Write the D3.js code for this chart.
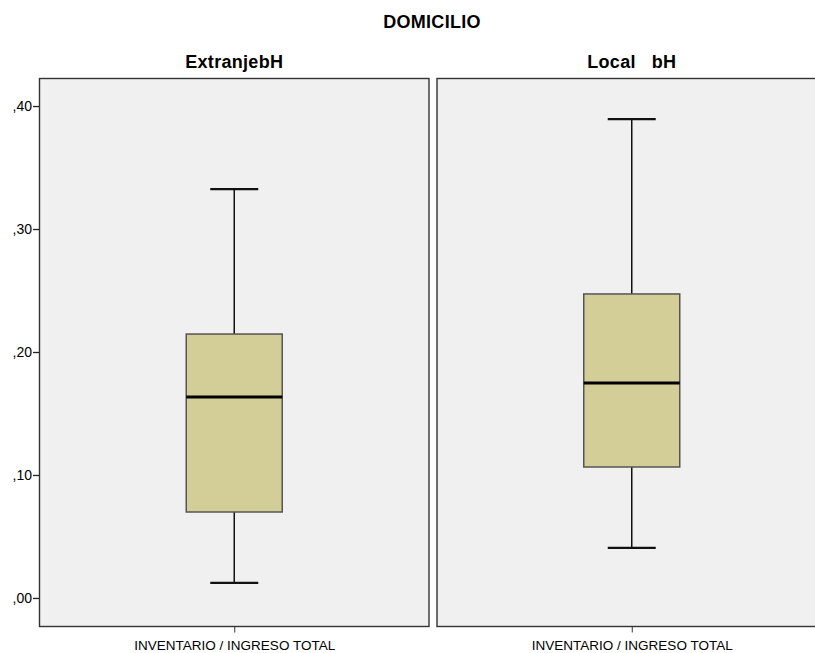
<!DOCTYPE html>
<html>
<head>
<meta charset="utf-8">
<script src="https://cdn.jsdelivr.net/npm/d3@7"></script>
<style>
  html, body { margin: 0; padding: 0; background: #ffffff; }
  svg { display: block; font-family: "Liberation Sans", Arial, sans-serif; }
</style>
</head>
<body>
<svg id="chart" width="815" height="653"></svg>
<script>
// Panels (DOMICILIO groups) and box-plot summaries of INVENTARIO / INGRESO TOTAL
const panels   = ["ExtranjebH", "Local   bH"];
const whiskLo  = [0.0122, 0.0407];
const q1       = [0.0699, 0.1065];
const median   = [0.1634, 0.1748];
const q3       = [0.2146, 0.2472];
const whiskHi  = [0.3325, 0.3894];
const yTicks   = [0, 0.1, 0.2, 0.3, 0.4];
const xLabel   = "INVENTARIO / INGRESO TOTAL";
const title    = "DOMICILIO";

const svg = d3.select("#chart");
const plotTop = 78, plotBottom = 626, plotLeft = 39, plotRight = 827, gap = 7;

const y = d3.scaleLinear().domain([-0.0228, 0.4228]).range([plotBottom, plotTop]);
const panelX = d3.scaleBand().domain(panels).range([plotLeft, plotRight + gap]).paddingInner(0);

const fmt = v => "," + d3.format(".2f")(v).split(".")[1];

svg.append("text")
  .attr("x", 432).attr("y", 28)
  .attr("text-anchor", "middle")
  .attr("font-size", 18).attr("font-weight", "bold").attr("letter-spacing", 0.3)
  .text(title);

// y axis on the left of the first panel
const yAxis = d3.axisLeft(y).tickValues(yTicks).tickFormat(fmt).tickSize(6).tickSizeOuter(0);
const gy = svg.append("g").attr("transform", `translate(${plotLeft},0)`).call(yAxis);
gy.select(".domain").remove();
gy.selectAll(".tick line").attr("stroke", "#222").attr("stroke-width", 1.3);
gy.selectAll(".tick text").attr("font-size", 14).attr("fill", "#000").attr("x", -7)
  .attr("font-family", "'Liberation Sans', Arial, sans-serif");

panels.forEach((p, i) => {
  const x0 = panelX(p);
  const w = panelX.bandwidth() - gap;
  const cx = x0 + w / 2;
  const g = svg.append("g");

  // panel header
  g.append("text")
    .attr("x", cx).attr("y", 68)
    .attr("text-anchor", "middle")
    .attr("font-size", 18).attr("font-weight", "bold").attr("letter-spacing", 0.3)
    .style("white-space", "pre")
    .text(p);

  // panel frame
  g.append("rect")
    .attr("x", x0 + 0.5).attr("y", plotTop + 0.5)
    .attr("width", w - 1).attr("height", plotBottom - plotTop)
    .attr("fill", "#f0f0f0").attr("stroke", "#333").attr("stroke-width", 1.4);

  // x tick and label
  const xs = d3.scalePoint().domain([xLabel]).range([x0, x0 + w]).padding(0.5);
  const gx = g.append("g").attr("transform", `translate(0,${plotBottom + 0.5})`)
    .call(d3.axisBottom(xs).tickSize(6).tickSizeOuter(0));
  gx.select(".domain").remove();
  gx.selectAll(".tick line").attr("stroke", "#333");
  gx.selectAll(".tick text").attr("font-size", 13.5).attr("fill", "#000").attr("dy", "1.05em")
    .attr("font-family", "'Liberation Sans', Arial, sans-serif");

  const boxW = 96, capW = 48;
  // whisker stems
  g.append("line").attr("x1", cx).attr("x2", cx)
    .attr("y1", y(whiskHi[i])).attr("y2", y(q3[i]))
    .attr("stroke", "#111").attr("stroke-width", 1.5);
  g.append("line").attr("x1", cx).attr("x2", cx)
    .attr("y1", y(q1[i])).attr("y2", y(whiskLo[i]))
    .attr("stroke", "#111").attr("stroke-width", 1.5);
  // caps
  [whiskHi[i], whiskLo[i]].forEach(v => {
    g.append("line").attr("x1", cx - capW / 2).attr("x2", cx + capW / 2)
      .attr("y1", y(v)).attr("y2", y(v))
      .attr("stroke", "#111").attr("stroke-width", 2.2);
  });
  // box
  g.append("rect")
    .attr("x", cx - boxW / 2).attr("y", y(q3[i]))
    .attr("width", boxW).attr("height", y(q1[i]) - y(q3[i]))
    .attr("fill", "#d3ce98").attr("stroke", "#555").attr("stroke-width", 1.5);
  // median
  g.append("line").attr("x1", cx - boxW / 2).attr("x2", cx + boxW / 2)
    .attr("y1", y(median[i])).attr("y2", y(median[i]))
    .attr("stroke", "#000").attr("stroke-width", 3);
});
</script>
</body>
</html>
